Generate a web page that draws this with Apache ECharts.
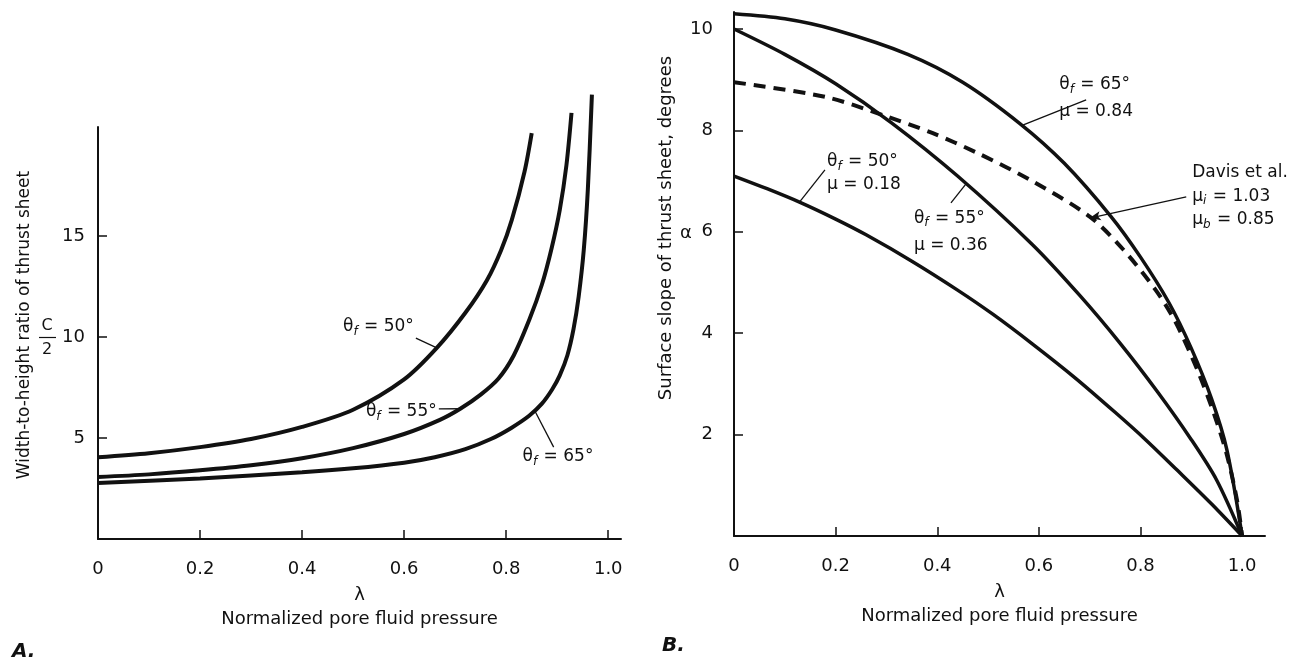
<!DOCTYPE html>
<html>
<head>
<meta charset="utf-8">
<script src="https://cdn.jsdelivr.net/npm/echarts@6/dist/echarts.min.js"></script>
<style>
  html, body { margin: 0; background: #fff; }
  #main { width: 1307px; height: 664px; }
</style>
</head>
<body>
<div id="main"></div>
<script>
// panel A - width-to-height ratio of thrust sheet vs lambda
var lamA50 = [0, 0.1, 0.2, 0.3, 0.4, 0.5, 0.6, 0.664, 0.72, 0.762, 0.79, 0.811, 0.836, 0.85];
var ratioA50 = [4.05, 4.25, 4.55, 4.95, 5.55, 6.4, 7.9, 9.46, 11.2, 12.8, 14.3, 15.8, 18.2, 20.1];
var lamA55 = [0, 0.1, 0.2, 0.3, 0.4, 0.5, 0.6, 0.67, 0.71, 0.75, 0.785, 0.815, 0.846, 0.87, 0.889, 0.905, 0.918, 0.928];
var ratioA55 = [3.07, 3.2, 3.4, 3.65, 4.0, 4.5, 5.2, 5.9, 6.45, 7.15, 7.95, 9.1, 10.9, 12.6, 14.4, 16.3, 18.5, 21.1];
var lamA65 = [0, 0.2, 0.4, 0.5, 0.6, 0.66, 0.72, 0.77, 0.81, 0.845, 0.87, 0.89, 0.905, 0.92, 0.932, 0.942, 0.952, 0.96, 0.968];
var ratioA65 = [2.77, 3.0, 3.3, 3.5, 3.78, 4.05, 4.45, 4.95, 5.5, 6.1, 6.7, 7.4, 8.1, 9.1, 10.4, 12.0, 14.3, 17.3, 22.0];

// panel B - surface slope alpha (degrees) vs lambda
var lamB65 = [0, 0.1, 0.2, 0.342, 0.45, 0.562, 0.65, 0.742, 0.8, 0.856, 0.9, 0.94, 0.97, 1.0];
var alphaB65 = [10.3, 10.2, 9.98, 9.5, 8.95, 8.14, 7.35, 6.3, 5.5, 4.6, 3.7, 2.7, 1.7, 0];
var lamB55 = [0, 0.1, 0.2, 0.31, 0.44, 0.587, 0.68, 0.76, 0.833, 0.9, 0.95, 1.0];
var alphaB55 = [10.0, 9.5, 8.92, 8.15, 7.1, 5.75, 4.75, 3.8, 2.85, 1.9, 1.1, 0];
var lamB50 = [0, 0.065, 0.13, 0.2, 0.26, 0.35, 0.44, 0.51, 0.587, 0.67, 0.75, 0.81, 0.872, 0.94, 1.0];
var alphaB50 = [7.1, 6.85, 6.58, 6.25, 5.94, 5.42, 4.85, 4.37, 3.79, 3.13, 2.44, 1.9, 1.3, 0.63, 0];
var lamDavis = [0, 0.18, 0.293, 0.39, 0.48, 0.587, 0.7, 0.766, 0.83, 0.87, 0.913, 0.945, 0.97, 0.99, 1.0];
var alphaDavis = [8.95, 8.66, 8.3, 7.95, 7.55, 7.0, 6.3, 5.65, 4.85, 4.2, 3.25, 2.4, 1.6, 0.7, 0];

var xTicks = [0, 0.2, 0.4, 0.6, 0.8, 1.0];
var yTicksA = [5, 10, 15];
var yTicksB = [2, 4, 6, 8, 10];

var FONT = 'DejaVu Sans';
var INK = '#111';

function pairs(xs, ys) {
  return xs.map(function (x, i) { return [x, ys[i]]; });
}

function xAxisFor(grid, max) {
  return {
    type: 'value', gridIndex: grid, min: 0, max: max,
    axisLine: { show: true, onZero: false, lineStyle: { color: INK, width: 2 } },
    axisTick: { show: true, inside: true, length: 9, customValues: xTicks, lineStyle: { color: INK, width: 1.5 } },
    axisLabel: {
      customValues: xTicks, margin: 21, fontSize: 18, fontFamily: FONT, color: INK,
      formatter: function (v) { return v === 0 ? '0' : v.toFixed(1); }
    },
    splitLine: { show: false },
    name: 'λ\nNormalized pore fluid pressure',
    nameLocation: 'middle', nameGap: 38,
    nameTextStyle: { fontSize: 18, lineHeight: 24, fontFamily: FONT, color: INK }
  };
}

function yAxisFor(grid, max, ticks, margin) {
  return {
    type: 'value', gridIndex: grid, min: 0, max: max,
    axisLine: { show: true, onZero: false, lineStyle: { color: INK, width: 2 } },
    axisTick: { show: true, inside: true, length: 9, customValues: ticks, lineStyle: { color: INK, width: 1.5 } },
    axisLabel: { customValues: ticks, margin: margin, fontSize: 18, fontFamily: FONT, color: INK },
    splitLine: { show: false }
  };
}

var rich = {
  t: { fontSize: 17, fontFamily: FONT, color: INK },
  s: { fontSize: 12, fontFamily: FONT, fontStyle: 'italic', color: INK, padding: [10, 1, 0, 0] }
};

// text label placed at a data point
function note(coord, text, side, lh) {
  return {
    coord: coord, symbol: 'circle', symbolSize: 0.1,
    itemStyle: { color: 'rgba(0,0,0,0)' },
    label: { show: true, position: side, distance: 0, formatter: text, lineHeight: lh, rich: rich }
  };
}

// leader line between two data points
function leader(from, to, arrow) {
  return [
    { coord: from, symbol: 'none' },
    { coord: to, symbol: arrow ? 'arrow' : 'none', symbolSize: [7, 11] }
  ];
}

function curve(name, grid, xs, ys, width, dashed, extra) {
  var s = {
    name: name, type: 'line', xAxisIndex: grid, yAxisIndex: grid,
    data: pairs(xs, ys), smooth: 0.3,
    showSymbol: false, clip: false, silent: true,
    lineStyle: { color: INK, width: width, type: dashed ? [12, 8] : 'solid' }
  };
  return Object.assign(s, extra || {});
}

var markLineBase = {
  silent: true, symbol: ['none', 'none'], label: { show: false },
  lineStyle: { color: INK, width: 1.3, type: 'solid' }
};

var option = {
  animation: false,
  backgroundColor: '#fff',
  grid: [
    { left: 98, top: 127, width: 523, height: 412 },
    { left: 734, top: 12, width: 531, height: 524 }
  ],
  xAxis: [xAxisFor(0, 1.025), xAxisFor(1, 1.045)],
  yAxis: [yAxisFor(0, 20.4, yTicksA, 13), yAxisFor(1, 10.335, yTicksB, 21)],
  series: [
    curve('θf = 50°', 0, lamA50, ratioA50, 4, false, {
      markLine: Object.assign({}, markLineBase, {
        data: [
          leader([0.623, 9.95], [0.664, 9.46]),
          leader([0.668, 6.44], [0.712, 6.45]),
          leader([0.893, 4.55], [0.856, 6.35])
        ]
      }),
      markPoint: {
        silent: true,
        data: [
          note([0.619, 10.5], '{t|θ}{s|f}{t| = 50°}', 'left', 20),
          note([0.664, 6.29], '{t|θ}{s|f}{t| = 55°}', 'left', 20),
          note([0.832, 4.06], '{t|θ}{s|f}{t| = 65°}', 'right', 20)
        ]
      }
    }),
    curve('θf = 55°', 0, lamA55, ratioA55, 4),
    curve('θf = 65°', 0, lamA65, ratioA65, 4),
    curve('θf = 65°, μ = 0.84', 1, lamB65, alphaB65, 3.5, false, {
      markLine: Object.assign({}, markLineBase, {
        data: [
          leader([0.693, 8.6], [0.567, 8.1]),
          leader([0.179, 7.22], [0.13, 6.6]),
          leader([0.427, 6.57], [0.457, 6.95]),
          leader([0.89, 6.69], [0.70, 6.27], true)
        ]
      }),
      markPoint: {
        silent: true,
        data: [
          note([0.64, 8.63], '{t|θ}{s|f}{t| = 65°}\n{t|μ = 0.84}', 'right', 27),
          note([0.183, 7.15], '{t|θ}{s|f}{t| = 50°}\n{t|μ = 0.18}', 'right', 23),
          note([0.354, 6.0], '{t|θ}{s|f}{t| = 55°}\n{t|μ = 0.36}', 'right', 27),
          note([0.9016, 6.7], '{t|Davis et al.}\n{t|μ}{s|i}{t| = 1.03}\n{t|μ}{s|b}{t| = 0.85}', 'right', 23.5)
        ]
      }
    }),
    curve('θf = 55°, μ = 0.36', 1, lamB55, alphaB55, 3.5),
    curve('θf = 50°, μ = 0.18', 1, lamB50, alphaB50, 3.5),
    curve('Davis et al.', 1, lamDavis, alphaDavis, 4, true)
  ],
  graphic: [
    {
      type: 'text', x: 25, y: 325, rotation: Math.PI / 2, silent: true,
      style: { text: 'Width-to-height ratio of thrust sheet', fontSize: 17, fontFamily: FONT, fill: INK, align: 'center', verticalAlign: 'middle' }
    },
    { type: 'text', x: 47, y: 326, silent: true, style: { text: 'C', fontSize: 16, fontFamily: FONT, fill: INK, align: 'center', verticalAlign: 'middle' } },
    { type: 'line', silent: true, shape: { x1: 39, y1: 337.5, x2: 56, y2: 337.5 }, style: { stroke: INK, lineWidth: 1.2 } },
    { type: 'text', x: 47, y: 350, silent: true, style: { text: '2', fontSize: 16, fontFamily: FONT, fill: INK, align: 'center', verticalAlign: 'middle' } },
    {
      type: 'text', x: 666, y: 228, rotation: Math.PI / 2, silent: true,
      style: { text: 'Surface slope of thrust sheet, degrees', fontSize: 18, fontFamily: FONT, fill: INK, align: 'center', verticalAlign: 'middle' }
    },
    { type: 'text', x: 686, y: 233, silent: true, style: { text: 'α', fontSize: 18, fontFamily: FONT, fill: INK, align: 'center', verticalAlign: 'middle' } },
    { type: 'text', x: 12, y: 652, silent: true, style: { text: 'A.', fontSize: 20, fontWeight: 'bold', fontStyle: 'italic', fontFamily: FONT, fill: INK, verticalAlign: 'middle' } },
    { type: 'text', x: 662, y: 646, silent: true, style: { text: 'B.', fontSize: 20, fontWeight: 'bold', fontStyle: 'italic', fontFamily: FONT, fill: INK, verticalAlign: 'middle' } }
  ]
};

var chart = echarts.init(document.getElementById('main'));
chart.setOption(option);
</script>
</body>
</html>
